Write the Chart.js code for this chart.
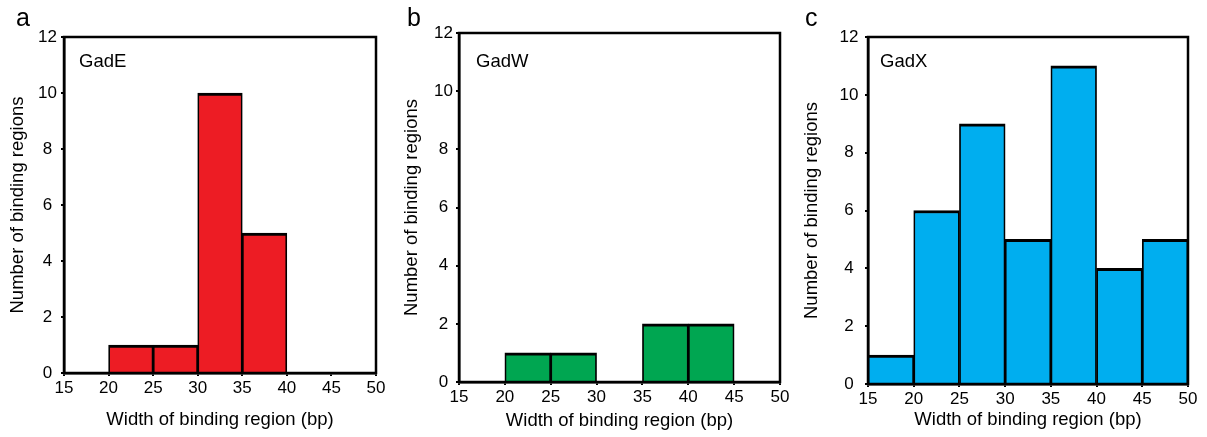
<!DOCTYPE html>
<html>
<head>
<meta charset="utf-8">
<script src="https://cdn.jsdelivr.net/npm/chart.js@4/dist/chart.umd.min.js"></script>
<style>
  html, body { margin: 0; padding: 0; background: #fff; }
  #wrap { position: relative; width: 1207px; height: 437px; }
  canvas { position: absolute; top: 0; }
</style>
</head>
<body>
<div id="wrap">
  <canvas id="chartA" width="400" height="437" style="left:0"></canvas>
  <canvas id="chartB" width="400" height="437" style="left:400px"></canvas>
  <canvas id="chartC" width="407" height="437" style="left:800px"></canvas>
</div>
<script>
// ─── DATA ─────────────────────────────────────────────────────────────────────
const xTicks = [15, 20, 25, 30, 35, 40, 45, 50];
const yTicks = [0, 2, 4, 6, 8, 10, 12];

// bin centres (bins are 5 bp wide)
const gadeBins   = [22.5, 27.5, 32.5, 37.5];
const gadeCounts = [1, 1, 10, 5];

const gadwBins   = [22.5, 27.5, 37.5, 42.5];
const gadwCounts = [1, 1, 2, 2];

const gadxBins   = [17.5, 22.5, 27.5, 32.5, 37.5, 42.5, 47.5];
const gadxCounts = [1, 6, 9, 5, 11, 4, 5];

const X_TITLE = 'Width of binding region (bp)';
const Y_TITLE = 'Number of binding regions';
const FONT    = "'Liberation Sans', Arial, Helvetica, sans-serif";

// ─── PLUGIN: frame + labels ───────────────────────────────────────────────────
const framePlugin = {
    id: 'frame',
    afterDatasetsDraw(chart, args, opts) {
        const { ctx, chartArea: a } = chart;
        ctx.save();
        ctx.strokeStyle = '#000';
        ctx.lineWidth = 2.5;
        ctx.strokeRect(a.left, a.top, a.right - a.left, a.bottom - a.top);

        ctx.fillStyle = '#000';
        ctx.textBaseline = 'middle';
        ctx.textAlign = 'left';
        ctx.font = `18.5px ${FONT}`;
        ctx.fillText(opts.label, a.left + opts.insetX, a.top + opts.insetY);

        ctx.textBaseline = 'alphabetic';
        ctx.font = `25px ${FONT}`;
        ctx.fillText(opts.letter, opts.letterX, 26);
        ctx.restore();
    },
};

// ─── PANEL ────────────────────────────────────────────────────────────────────
function makePanel(id, p) {
    const ctx = document.getElementById(id).getContext('2d');
    return new Chart(ctx, {
        type: 'bar',
        data: {
            datasets: [{
                data: p.bins.map((x, i) => ({ x, y: p.counts[i] })),
                backgroundColor: p.color,
                borderColor: '#000',
                borderWidth: { top: 3, left: 1.75, right: 1.75, bottom: 0 },
                borderSkipped: 'start',
                barPercentage: 1,
                categoryPercentage: 1,
            }],
        },
        options: {
            responsive: false,
            devicePixelRatio: 1,
            animation: false,
            layout: { padding: { top: p.padTop, right: p.padRight, left: 0, bottom: 0 } },
            plugins: {
                legend: { display: false },
                tooltip: { enabled: false },
                frame: { label: p.label, letter: p.letter, insetX: p.insetX, insetY: p.insetY, letterX: p.letterX },
            },
            scales: {
                x: {
                    type: 'linear',
                    min: xTicks[0],
                    max: xTicks[xTicks.length - 1],
                    offset: false,
                    afterBuildTicks: (s) => { s.ticks = xTicks.map(v => ({ value: v })); },
                    afterFit: (s) => { s.height = p.xHeight; },
                    ticks: { color: '#000', font: { size: 17, family: FONT }, padding: 2, maxRotation: 0, autoSkip: false },
                    grid: { drawOnChartArea: false, drawTicks: true, tickLength: 3, color: '#000', lineWidth: 2, offset: false },
                    border: { display: true, color: '#000', width: 2.5 },
                    title: { display: true, text: X_TITLE, color: '#000', font: { size: 18.5, family: FONT }, padding: { top: 0, bottom: p.xTitlePad } },
                },
                y: {
                    min: yTicks[0],
                    max: yTicks[yTicks.length - 1],
                    afterBuildTicks: (s) => { s.ticks = yTicks.map(v => ({ value: v })); },
                    afterFit: (s) => { s.width = p.yWidth; },
                    ticks: { color: '#000', font: { size: 17, family: FONT }, padding: p.yTickPad, crossAlign: 'center' },
                    grid: { drawOnChartArea: false, drawTicks: true, tickLength: 3, color: '#000', lineWidth: 2 },
                    border: { display: true, color: '#000', width: 2.5 },
                    title: { display: true, text: Y_TITLE, color: '#000', font: { size: 18.5, family: FONT }, padding: { top: p.yTitlePad, bottom: 0 } },
                },
            },
        },
        plugins: [framePlugin],
    });
}

makePanel('chartA', {
    letter: 'a', label: 'GadE', bins: gadeBins, counts: gadeCounts, color: '#ed1c24',
    yWidth: 64, xHeight: 64, padTop: 37, padRight: 24,
    yTitlePad: 6.9, xTitlePad: 5.9, yTickPad: 4, insetX: 15, insetY: 25, letterX: 16,
});
makePanel('chartB', {
    letter: 'b', label: 'GadW', bins: gadwBins, counts: gadwCounts, color: '#00a651',
    yWidth: 59, xHeight: 55, padTop: 33, padRight: 20,
    yTitlePad: 0.9, xTitlePad: 4.9, yTickPad: 3, insetX: 17, insetY: 29, letterX: 7,
});
makePanel('chartC', {
    letter: 'c', label: 'GadX', bins: gadxBins, counts: gadxCounts, color: '#00aeef',
    yWidth: 68, xHeight: 53, padTop: 37, padRight: 19,
    yTitlePad: 0.9, xTitlePad: 5.9, yTickPad: 6.6, insetX: 12, insetY: 25, letterX: 5,
});
</script>
</body>
</html>
